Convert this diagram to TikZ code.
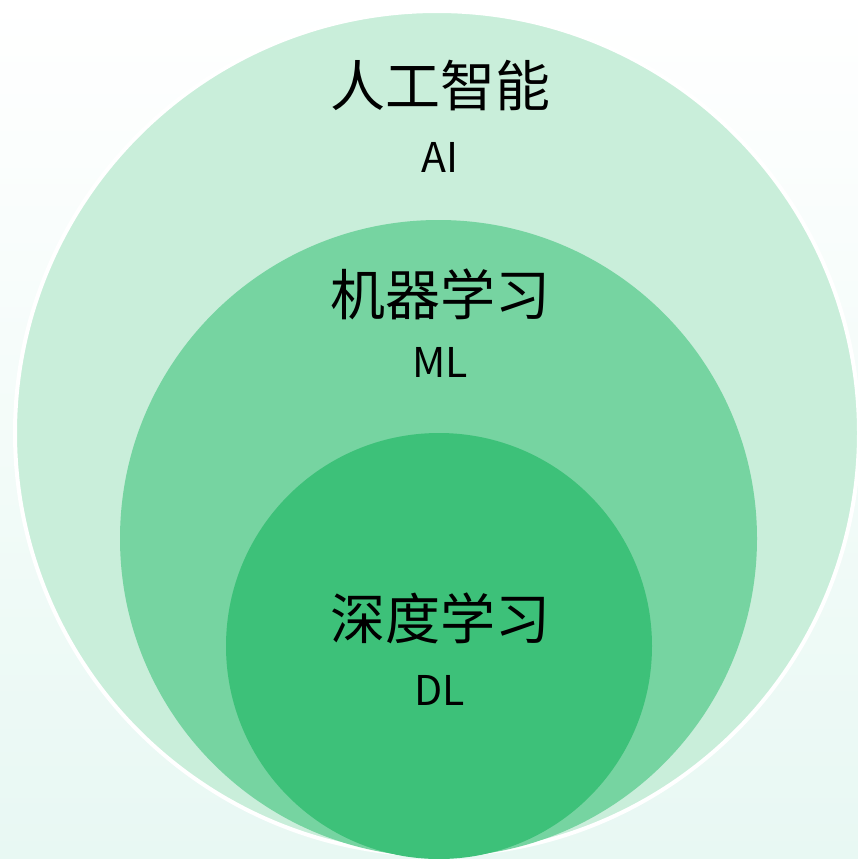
\documentclass[tikz,border=0pt]{standalone}
\usepackage{fontspec}
\setmainfont{Noto Sans CJK SC}
\newfontfamily\cjk{Noto Sans CJK SC}
\definecolor{bgmint}{HTML}{E8F8F3}
\definecolor{aifill}{HTML}{C9EEDA}
\definecolor{mlfill}{HTML}{76D4A1}
\definecolor{dlfill}{HTML}{3DC179}
\tikzset{
  zh/.style={font=\cjk\fontsize{55}{60}\selectfont, text=black, inner sep=0pt},
  en/.style={font=\cjk\fontsize{41}{46}\selectfont, text=black, inner sep=0pt},
}
\begin{document}
\begin{tikzpicture}[x=1pt,y=-1pt]
\useasboundingbox (0,0) rectangle (858,859);
\shade[top color=white, bottom color=bgmint] (0,0) rectangle (858,859);
\begin{scope}
\clip (0,0) rectangle (858,859);
\fill[aifill, draw=white, line width=4pt] (437,433) circle[radius=422];
\fill[mlfill] (438.5,538.5) circle[radius=318.5];
\fill[dlfill] (439,646) circle[radius=213];
\end{scope}
\node[zh] (ai) at (440,86) {人工智能};
\node[en] (aien) at (440,157) {AI};
\node[zh] (ml) at (440,294) {机器学习};
\node[en] (mlen) at (440,362) {ML};
\node[zh] (dl) at (440,618) {深度学习};
\node[en] (dlen) at (440,690) {DL};
\end{tikzpicture}
\end{document}
